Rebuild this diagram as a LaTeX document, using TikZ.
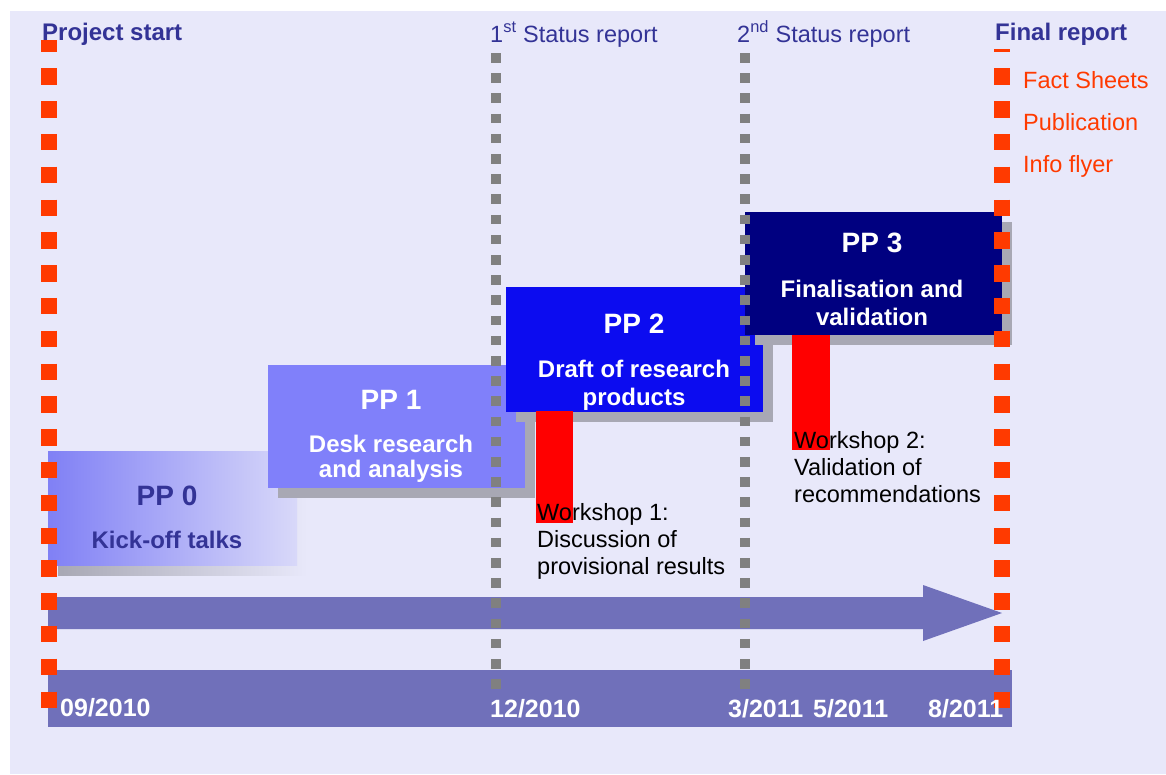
\documentclass[tikz,border=0pt]{standalone}
\usepackage{fontspec}
\setmainfont{Liberation Sans}

\definecolor{backdrop}{RGB}{232,232,250}
\definecolor{navytext}{RGB}{51,51,150}
\definecolor{milestone}{RGB}{255,58,0}
\definecolor{statusgray}{RGB}{128,128,128}
\definecolor{timebar}{RGB}{112,112,186}
\definecolor{shadowgray}{RGB}{168,168,180}
\definecolor{ppzero}{RGB}{128,128,245}
\definecolor{ppone}{RGB}{128,128,250}
\definecolor{pptwo}{RGB}{12,12,240}
\definecolor{ppthree}{RGB}{0,0,128}

\begin{document}
\begin{tikzpicture}[x=1pt, y=-1pt,
	ppbox/.style={anchor=north west, inner sep=0pt, minimum width=\boxw pt, minimum height=\boxh pt},
	pptitle/.style={font=\fontsize{28}{30}\selectfont\bfseries, text=white, anchor=base},
	ppdesc/.style={font=\fontsize{24}{27.5}\selectfont\bfseries, text=white, align=center, anchor=base},
	header/.style={font=\fontsize{23.5}{26}\selectfont, text=navytext, anchor=base west, inner sep=0pt},
	boldheader/.style={header, font=\fontsize{24}{26}\selectfont\bfseries},
	output/.style={font=\fontsize{23.5}{26}\selectfont, text=milestone, anchor=base west, inner sep=0pt},
	workshop/.style={font=\fontsize{23.5}{27}\selectfont, align=left, anchor=base west, inner sep=0pt},
	date/.style={font=\fontsize{25}{26}\selectfont\bfseries, text=white, anchor=base west, inner sep=0pt},
	reportline/.style={line width=16pt, milestone, dash pattern=on 16.5pt off 16.3pt},
	statusline/.style={line width=10pt, statusgray, dash pattern=on 9.5pt off 10.7pt}]

	\def\boxw{257}
	\def\boxh{123}
	\def\shadowoff{10} % shadow offset

	\useasboundingbox (0,0) rectangle (1166,774);
	\fill[white] (0,0) rectangle (1166,774);
	\fill[backdrop] (10,11) rectangle (1166,774);

	% time bar and arrow
	\fill[timebar] (48,670) rectangle (1012,727);
	\fill[timebar] (48,597) -- (923,597) -- (923,585) -- (1002,613)
		-- (923,641) -- (923,629) -- (48,629) -- cycle;

	% PP 0, fading out
	\fill[left color=shadowgray, right color=backdrop] (48+\shadowoff,451+\shadowoff) rectangle (307,575);
	\node[ppbox, minimum width=249pt, minimum height=114pt,
		left color=ppzero, right color=backdrop!85!ppzero] (pp0) at (48,451) {};

	% PP 1
	\fill[shadowgray] (268+\shadowoff,365+\shadowoff) rectangle ++(\boxw,\boxh);
	\node[ppbox, fill=ppone] (pp1) at (268,365) {};

	% PP 2
	\fill[shadowgray] (506+\shadowoff,287+\shadowoff) rectangle ++(\boxw,125);
	\node[ppbox, fill=pptwo, minimum height=125pt] (pp2) at (506,287) {};

	% PP 3
	\fill[shadowgray] (745+\shadowoff,212+\shadowoff) rectangle ++(\boxw,\boxh);
	\node[ppbox, fill=ppthree] (pp3) at (745,212) {};

	% workshops
	\fill[red] (536,411) rectangle (573,523);
	\fill[red] (792,335) rectangle (830,450);

	% status reports
	\draw[statusline] (495.5,53) -- (495.5,690);
	\draw[statusline] (744.5,53) -- (744.5,690);

	% project start and final report
	\draw[reportline, dash phase=4.5pt] (49,40) -- (49,708);
	\draw[reportline, dash phase=13.5pt] (1001.5,49) -- (1001.5,708);

	% milestones
	\node[boldheader] (start) at (42,40) {Project start};
	\node[header] (status1) at (490,42) {1\textsuperscript{st} Status report};
	\node[header] (status2) at (737,42) {2\textsuperscript{nd} Status report};
	\node[boldheader] (final) at (995,40) {Final report};

	\node[output] (facts) at (1023,88) {Fact Sheets};
	\node[output] (publication) at (1023,130) {Publication};
	\node[output] (flyer) at (1023,172) {Info flyer};

	% phase labels (base = last line)
	\node[pptitle, text=navytext] (pp0t) at (167,505) {PP 0};
	\node[ppdesc, text=navytext] (pp0d) at (167,548) {Kick-off talks};
	\node[pptitle] (pp1t) at (391,409) {PP 1};
	\node[ppdesc, font=\fontsize{24}{25}\selectfont\bfseries] (pp1d) at (391,477) {Desk research\\and analysis};
	\node[pptitle] (pp2t) at (634,333) {PP 2};
	\node[ppdesc] (pp2d) at (634,405) {Draft of research\\products};
	\node[pptitle] (pp3t) at (872,252) {PP 3};
	\node[ppdesc] (pp3d) at (872,325) {Finalisation and\\validation};

	\node[workshop] (ws1) at (537,574) {Workshop 1:\\Discussion of\\provisional results};
	\node[workshop] (ws2) at (794,502) {Workshop 2:\\Validation of\\recommendations};

	% dates
	\node[date] (d0) at (60,716) {09/2010};
	\node[date] (d1) at (490,717) {12/2010};
	\node[date] (d2) at (728,717) {3/2011};
	\node[date] (d3) at (813,717) {5/2011};
	\node[date] (d4) at (928,717) {8/2011};

\end{tikzpicture}
\end{document}
